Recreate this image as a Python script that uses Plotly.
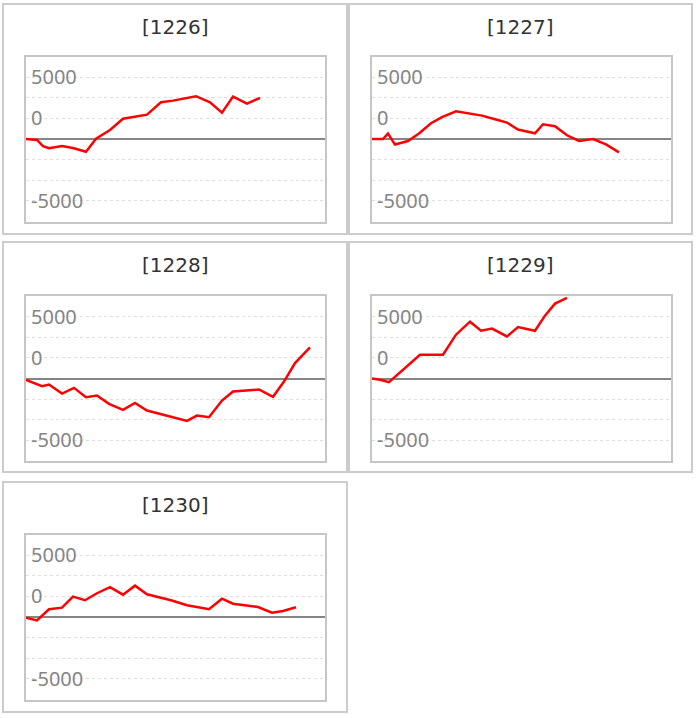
import plotly.graph_objects as go

# machine numbers shown over each small chart
machines = ["[1226]", "[1227]", "[1228]", "[1229]", "[1230]"]

# x = position along the day (same scale in every chart), y = coin difference
x_1226 = [0, 11, 17, 23, 36, 47, 60, 70, 84, 97, 121, 135, 147, 170, 184, 196, 207, 221, 234]
y_1226 = [0, -80, -570, -750, -570, -730, -1030, 25, 730, 1640, 1970, 2970, 3100, 3460,
          2970, 2130, 3430, 2860, 3320]

x_1227 = [0, 11, 16, 23, 36, 47, 59, 70, 84, 97, 110, 123, 135, 146, 163, 171, 183, 195,
          207, 221, 234, 247]
y_1227 = [0, 0, 440, -450, -160, 440, 1270, 1760, 2240, 2080, 1890, 1590, 1330, 760, 460,
          1190, 1030, 300, -160, 0, -430, -1080]

x_1228 = [0, 16, 23, 36, 48, 60, 71, 83, 97, 109, 121, 161, 171, 183, 196, 207, 233, 247,
          258, 269, 284]
y_1228 = [-105, -615, -485, -1215, -755, -1505, -1375, -2050, -2535, -1970, -2590, -3430,
          -3000, -3125, -1780, -1050, -890, -1480, -245, 1250, 2510]

x_1229 = [0, 8, 17, 37, 48, 71, 84, 98, 109, 120, 135, 146, 163, 173, 183, 195]
y_1229 = [0, -105, -290, 1085, 1920, 1920, 3540, 4590, 3860, 4030, 3400, 4160, 3860, 5080,
          6050, 6510]

x_1230 = [0, 11, 23, 36, 47, 59, 71, 84, 97, 109, 121, 145, 161, 183, 196, 207, 232, 246,
          257, 270]
y_1230 = [-55, -270, 625, 755, 1645, 1355, 1920, 2405, 1805, 2535, 1840, 1355, 945, 625,
          1480, 1075, 810, 350, 485, 785]

# axis labels as the page prints them
y_max = 20000 / 3
tick_vals = [5000, y_max / 4, -5000]
tick_text = ["5000", "0", "-5000"]

series = [(x_1226, y_1226), (x_1227, y_1227), (x_1228, y_1228),
          (x_1229, y_1229), (x_1230, y_1230)]

W, H = 697, 718

# pixel boxes: outer panel, inner plot area
panels = [(3, 4, 347, 234), (349, 4, 692, 234),
          (3, 242, 347, 472), (349, 242, 692, 472),
          (3, 482, 347, 712)]
plots = [(26, 56.5, 325, 221.5), (372, 56.5, 671, 221.5),
         (26, 296, 325, 461), (372, 296, 671, 461),
         (26, 534.5, 325, 699.5)]

fig = go.Figure()
layout = {}
shapes = []
annotations = []

for i, ((xs, ys), name) in enumerate(zip(series, machines)):
    n = "" if i == 0 else str(i + 1)
    fig.add_trace(go.Scatter(
        x=xs, y=ys, mode="lines",
        line=dict(color="#ff0000", width=2.5),
        xaxis="x" + n, yaxis="y" + n,
        showlegend=False, hoverinfo="y",
    ))

    px0, py0, px1, py1 = plots[i]
    layout["xaxis" + n] = dict(
        domain=[px0 / W, px1 / W], range=[0, 299], anchor="y" + n,
        showticklabels=False, showgrid=False, zeroline=False, ticks="",
        showline=True, mirror=True, linecolor="#c6c6c6", linewidth=2,
        fixedrange=True,
    )
    layout["yaxis" + n] = dict(
        domain=[1 - py1 / H, 1 - py0 / H], range=[-y_max, y_max], anchor="x" + n,
        tickvals=tick_vals, ticktext=tick_text, ticks="",
        ticklabelposition="inside", ticklabelstandoff=6,
        tickfont=dict(family="Noto Sans", size=20, color="#858585"),
        showgrid=True, gridcolor="#dedede", griddash="dot", gridwidth=1,
        minor=dict(dtick=y_max / 4, tick0=0, showgrid=True,
                   gridcolor="#dedede", griddash="dot", gridwidth=1),
        zeroline=True, zerolinecolor="#858585", zerolinewidth=2,
        showline=True, mirror=True, linecolor="#c6c6c6", linewidth=2,
        fixedrange=True,
    )

    bx0, by0, bx1, by1 = panels[i]
    shapes.append(dict(
        type="rect", xref="paper", yref="paper",
        x0=bx0 / W, x1=bx1 / W, y0=1 - by1 / H, y1=1 - by0 / H,
        line=dict(color="#cccccc", width=2), layer="below",
    ))
    annotations.append(dict(
        text=name, xref="paper", yref="paper",
        x=(bx0 + bx1) / 2 / W, y=1 - (by0 + 23) / H,
        xanchor="center", yanchor="middle", showarrow=False,
        font=dict(family="DejaVu Sans", size=20, color="#333333"),
    ))

fig.update_layout(
    width=W, height=H,
    margin=dict(l=0, r=0, t=0, b=0),
    paper_bgcolor="white", plot_bgcolor="white",
    shapes=shapes, annotations=annotations,
    **layout,
)

# page has a default 8px body margin; drop it so the figure fills the window
fig.write_html("out.html", config={"displayModeBar": False},
               post_script="document.body.style.margin = '0';")
